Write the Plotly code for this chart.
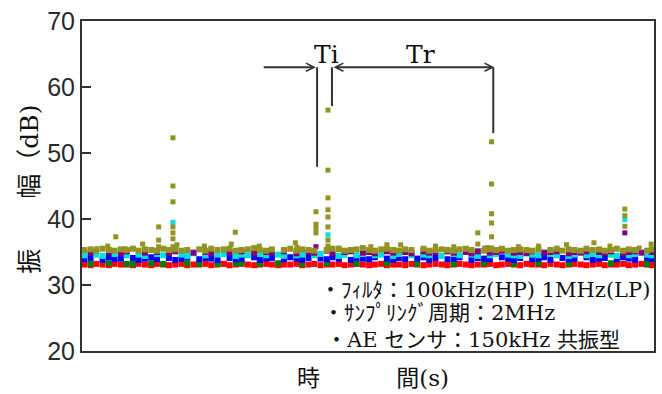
import plotly.graph_objects as go

N = None

# ---- data (time in arbitrary units 0-100, amplitude in dB) ----
t = [0.4, 1.5, 2.5, 3.6, 4.7, 5.7, 6.8, 7.8, 8.9, 9.9, 11.0, 12.1,
     13.1, 14.2, 15.2, 16.3, 17.4, 18.4, 19.5, 20.5, 21.6, 22.6, 23.7, 24.8,
     25.8, 26.9, 27.9, 29.0, 30.1, 31.1, 32.2, 33.2, 34.3, 35.3, 36.4, 37.5,
     38.5, 39.6, 40.6, 41.7, 42.8, 43.8, 44.9, 45.9, 47.0, 48.0, 49.1, 50.2,
     51.2, 52.3, 53.3, 54.4, 55.4, 56.5, 57.6, 58.6, 59.7, 60.7, 61.8, 62.9,
     63.9, 65.0, 66.0, 67.1, 68.1, 69.2, 70.3, 71.3, 72.4, 73.4, 74.5, 75.5,
     76.6, 77.7, 78.7, 79.8, 80.8, 81.9, 83.0, 84.0, 85.1, 86.1, 87.2, 88.2,
     89.3, 90.4, 91.4, 92.5, 93.5, 94.6, 95.6, 96.7, 97.8, 98.8, 99.6]

red_db = [33.1, 33.0, 33.2, 33.1, 33.0, 33.2, 33.1, 33.1, 33.0, 33.2, 33.1, 33.0,
          33.2, 33.1, 33.0, 33.1, 33.2, 33.0, 33.1, 33.1, 33.2, 33.0, 33.1, 33.2,
          33.0, 33.1, 33.2, 33.1, 33.0, 33.1, 33.2, 33.1, 33.0, 33.1, 33.1, 33.2,
          33.0, 33.1, 33.2, 33.0, 33.1, 33.1, 33.2, 33.0, 33.1, 33.2, 33.1, 33.0,
          33.1, 33.2, 33.0, 33.1, 33.1, 33.0, 33.2, 33.1, 33.0, 33.1, 33.2, 33.1,
          33.0, 33.1, 33.2, 33.1, 33.0, 33.1, 33.1, 33.2, 33.0, 33.1, 33.2, 33.1,
          33.0, 33.2, 33.1, 33.1, 33.0, 33.2, 33.1, 33.0, 33.1, 33.2, 33.1, 33.0,
          33.1, 33.2, 33.0, 33.1, 33.1, 33.2, 33.0, 33.1, 33.2, 33.1, 33.0]

green_db = [N, 33.2, N, N, 33.3, N, N, 33.2, 33.2, N, N, 33.3,
            N, 33.2, N, N, N, 33.3, N, 33.2, N, N, 33.2, N,
            N, 33.3, 33.3, N, N, 33.2, N, N, 33.3, N, N, N,
            33.2, N, N, N, 33.3, N, N, N, N, 33.2, N, N,
            N, N, 33.3, N, N, N, N, 33.2, N, N, N, N,
            N, 33.2, N, N, N, N, 33.3, N, N, N, N, 33.2,
            N, N, N, 33.3, N, N, N, N, 33.2, N, N, N,
            N, N, N, 33.3, N, N, N, N, N, 33.2, N]

blue_db = [33.9, 34.1, N, 33.8, 34.2, 33.9, 34.0, N, 34.1, 33.8, 34.0, 34.2,
           33.9, N, 34.1, 33.8, 34.0, 34.2, N, 33.9, 34.1, 34.0, 33.8, N,
           34.1, 33.9, 34.0, N, 34.2, 33.8, 34.0, 34.1, N, 33.9, 34.2, 34.0,
           33.8, 34.1, N, 34.0, 33.9, 34.2, 34.0, N, 33.8, 34.1, 34.0, 33.9,
           34.2, N, 34.0, 33.8, 34.1, 33.9, N, 34.0, 34.2, 33.8, 34.1, N,
           33.9, 34.0, 34.2, N, 33.8, 34.1, 34.0, 33.9, N, 34.2, 34.0, 33.8,
           34.1, N, 33.9, 34.0, 34.2, 33.8, N, 34.1, 33.9, 34.0, N, 34.2,
           33.8, 34.0, 34.1, N, 33.9, 34.2, 34.0, 33.8, N, 34.1, 33.9]

cyan_db = [34.5, N, 34.6, 34.4, N, 34.7, N, 34.5, N, 34.6, 34.4, N,
           34.7, 34.5, N, N, 34.6, 34.4, 34.8, N, 34.5, N, 34.6, 34.7,
           N, 34.4, 34.6, 34.5, N, 34.7, 34.5, N, 34.6, 34.4, N, 34.5,
           34.6, N, 34.5, 34.7, N, N, 34.4, 34.6, N, 34.5, 34.7, N,
           34.5, 34.6, N, 34.4, 34.7, N, 34.5, N, 34.6, 34.5, N, 34.4,
           N, 34.7, 34.5, N, 34.6, 34.4, N, 34.5, 34.7, N, 34.6, 34.5,
           34.4, N, 34.6, 34.5, N, 34.7, 34.5, N, 34.4, 34.6, N, 34.5,
           34.7, 34.5, N, 34.6, 34.4, N, 34.5, 34.7, N, 34.6, 34.5]

purple_db = [N, 34.9, N, N, 35.0, N, 34.8, 35.1, N, N, 34.9, N,
             35.0, N, 34.8, 35.1, N, N, 34.9, N, 35.0, 34.8, N, N,
             34.9, N, 35.1, N, 34.8, N, 35.0, 34.9, N, 35.1, N, 34.8,
             N, 35.0, 34.9, N, 35.2, 34.8, N, 35.0, 35.1, N, 34.9, 35.0,
             34.8, N, 35.1, 34.9, N, 35.0, 34.8, N, 35.1, 34.9, 35.0, N,
             35.1, 34.9, N, 35.0, 34.8, 35.1, N, 34.9, 35.0, 35.2, N, 34.9,
             35.0, 34.8, 35.1, N, 34.9, 35.0, 35.1, N, 34.8, 35.0, 34.9, 35.1,
             N, 35.0, 34.9, 35.1, N, 34.8, 35.0, 35.1, 34.9, N, 35.0]

olive_db = [35.3, 35.4, 35.2, 35.5, 35.3, 35.2, 35.4, 35.3, 35.5, 35.2, 35.4, 35.3,
            35.2, 35.5, 35.3, 35.4, 35.2, 35.3, N, 35.4, 35.2, 35.5, 35.3, 35.4,
            35.5, 35.2, 35.3, 35.4, 35.6, 35.3, 35.2, 35.4, N, 35.3, 35.5, 35.2,
            35.4, 35.3, 35.2, N, 35.3, 35.5, 35.4, 35.2, 35.3, 35.4, 35.6, 35.3,
            35.2, 35.4, 35.5, 35.3, 35.2, 35.4, 35.3, N, 35.5, 35.2, 35.3, 35.4,
            35.3, 35.2, 35.4, 35.5, 35.3, N, 35.2, 35.4, 35.3, 35.5, 35.2, 35.3,
            35.4, 35.3, 35.2, 35.4, N, 35.3, 35.5, 35.2, 35.4, 35.3, 35.2, 35.5,
            35.3, 35.4, 35.2, 35.3, 35.5, 35.2, 35.4, 35.3, N, 35.2, 35.4]

# larger hits above the noise band
olive_hit_t = [2.6, 4.5, 5.9, 7.5, 10.6,
               13.4, 13.4, 13.4,
               15.9, 15.9, 15.9, 15.9, 15.9, 15.9, 15.9,
               16.6, 21.4, 26.1, 26.8, 31.0, 37.3, 37.6,
               40.9, 40.9, 40.9, 40.9,
               43.0, 43.0, 43.0, 43.0, 43.0, 43.0, 43.0, 43.0,
               44.9, 50.5, 53.3, 55.7, 61.8, 65.0,
               69.2, 69.2, 70.4,
               71.6, 71.6, 71.6, 71.6, 71.6, 71.6,
               76.3, 79.8, 84.7, 89.5, 92.3,
               94.9, 94.9, 94.9, 97.4, 99.5]
olive_hit_db = [35.5, 35.9, 37.3, 35.5, 36.2,
                38.8, 36.8, 35.8,
                52.3, 45.0, 42.6, 38.8, 37.9, 37.0, 35.8,
                36.1, 35.9, 36.2, 38.0, 35.9, 36.4, 35.7,
                41.1, 39.2, 38.6, 37.9,
                56.5, 47.4, 43.2, 41.4, 40.3, 38.8, 36.8, 35.9,
                35.6, 35.8, 36.1, 36.1, 35.9, 35.8,
                37.9, 36.2, 35.6,
                51.7, 45.3, 40.8, 39.4, 37.3, 35.6,
                35.8, 35.9, 36.1, 36.4, 35.9,
                41.5, 40.5, 38.9, 35.6, 36.2]
cyan_hit_t = [15.9, 43.0, 94.9]
cyan_hit_db = [39.5, 37.6, 39.9]
purple_hit_t = [40.9, 70.9, 94.9]
purple_hit_db = [35.8, 35.6, 37.9]

# Ti / Tr interval markers
event_t = [41.1, 43.7, 71.9]
event_bottom_db = [47.9, 57.1, 53.0]
arrow_db = 63.0
lead_in_t = 31.5

y_ticks = [20, 30, 40, 50, 60, 70]

BAND_SIZE = 6
HIT_SIZE = 5

series = [
    ("red", "#ff0000", t, red_db, []),
    ("green", "#008000", t, green_db, []),
    ("blue", "#0000ff", t, blue_db, []),
    ("cyan", "#00e0e0", t + cyan_hit_t, cyan_db + cyan_hit_db, cyan_hit_t),
    ("purple", "#800080", t + purple_hit_t, purple_db + purple_hit_db, purple_hit_t),
    ("olive", "#939324", t + olive_hit_t, olive_db + olive_hit_db, olive_hit_t),
]

fig = go.Figure()
for name, color, xs, ys, hits in series:
    sizes = [BAND_SIZE] * len(t) + [HIT_SIZE] * len(hits)
    fig.add_trace(go.Scatter(
        x=xs, y=ys, mode="markers", name=name,
        marker=dict(symbol="square", size=sizes, color=color, opacity=1,
                    line=dict(width=0)),
        hoverinfo="skip", showlegend=False))

line_col = "#333333"
for et, eb in zip(event_t, event_bottom_db):
    fig.add_shape(type="line", xref="x", yref="y", x0=et, x1=et, y0=eb, y1=arrow_db,
                  line=dict(color=line_col, width=2))

# arrows
fig.add_annotation(x=event_t[0] - 0.2, y=arrow_db, ax=lead_in_t, ay=arrow_db,
                   xref="x", yref="y", axref="x", ayref="y", text="",
                   showarrow=True, arrowhead=5, arrowsize=0.8, arrowwidth=2,
                   arrowcolor=line_col, standoff=0, startstandoff=0)
fig.add_annotation(x=event_t[2] + 0.2, y=arrow_db, ax=event_t[1], ay=arrow_db,
                   xref="x", yref="y", axref="x", ayref="y", text="",
                   showarrow=True, arrowhead=5, startarrowhead=5, arrowside="end+start",
                   arrowsize=0.8, startarrowsize=0.8, arrowwidth=2,
                   arrowcolor=line_col, standoff=0, startstandoff=0)

serif = "DejaVu Serif, Noto Sans CJK JP, serif"
fig.add_annotation(x=42.7, y=arrow_db, xref="x", yref="y", text="Ti", showarrow=False,
                   xanchor="center", yanchor="bottom", yshift=-4,
                   font=dict(family=serif, size=25, color="#111"))
fig.add_annotation(x=59.1, y=arrow_db, xref="x", yref="y", text="Tr", showarrow=False,
                   xanchor="center", yanchor="bottom", yshift=-4,
                   font=dict(family=serif, size=25, color="#111"))

notes = [
    ("・ﾌｨﾙﾀ：100kHz(HP) 1MHz(LP)", 0.412, 0.185),
    ("・ｻﾝﾌﾟﾘﾝｸﾞ周期：2MHz", 0.417, 0.115),
    ("・AE センサ：150kHz 共振型", 0.423, 0.033),
]
for txt, nx, ny in notes:
    fig.add_annotation(x=nx, y=ny, xref="paper", yref="paper", text=txt, showarrow=False,
                       xanchor="left", yanchor="middle",
                       font=dict(family=serif, size=21, color="#111"))

# axis titles
fig.add_annotation(x=0.508, y=-0.082, xref="paper", yref="paper", text="時　　　 間(s)",
                   showarrow=False, xanchor="center", yanchor="middle",
                   font=dict(family=serif, size=23, color="#111"))
fig.add_annotation(x=-0.092, y=0.49, xref="paper", yref="paper", text="振　　幅（dB)",
                   showarrow=False, xanchor="center", yanchor="middle", textangle=-90,
                   font=dict(family=serif, size=25, color="#111"))

fig.update_xaxes(range=[0, 100], showticklabels=False, ticks="", showgrid=False,
                 zeroline=False, showline=True, linewidth=2, linecolor=line_col, mirror=True)
fig.update_yaxes(range=[20, 70], tickvals=y_ticks, ticks="inside", ticklen=9, tickwidth=2,
                 tickcolor=line_col, showgrid=False, zeroline=False, showline=True,
                 linewidth=2, linecolor=line_col, mirror=True,
                 tickfont=dict(family="Liberation Sans, Arial, sans-serif", size=25, color="#2a2a2a"))

fig.update_layout(width=662, height=394, margin=dict(l=82, r=6, t=21, b=43),
                  plot_bgcolor="white", paper_bgcolor="white", showlegend=False)

fig.write_html("out.html")
